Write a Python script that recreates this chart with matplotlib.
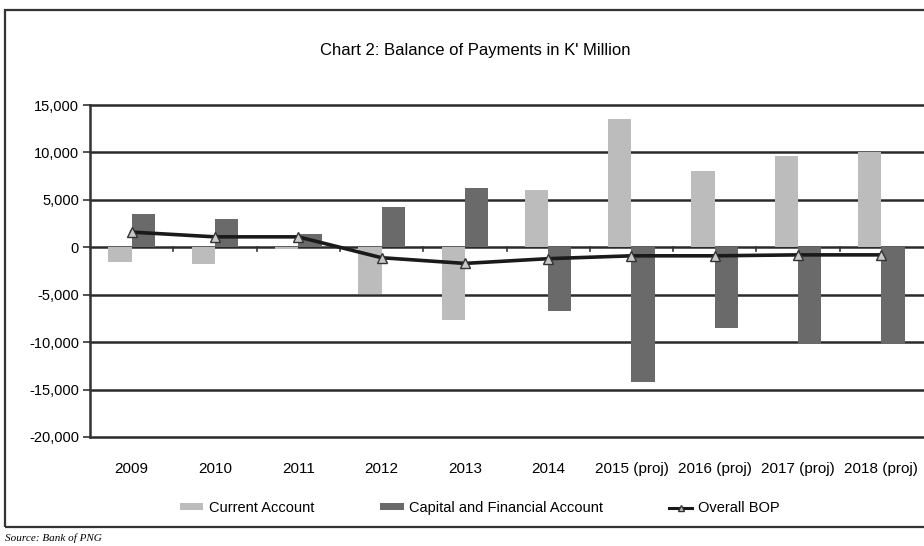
import matplotlib
matplotlib.use("Agg")
import matplotlib.pyplot as plt
from matplotlib.patches import Rectangle, Patch
from matplotlib.lines import Line2D
import numpy as np

categories = ["2009", "2010", "2011", "2012", "2013", "2014",
              "2015 (proj)", "2016 (proj)", "2017 (proj)", "2018 (proj)"]
current_account = [-1500, -1800, -200, -4900, -7700, 6000, 13500, 8000, 9600, 10000]
capital_financial = [3500, 3000, 1400, 4200, 6200, -6700, -14200, -8500, -10200, -10200]
overall_bop = [1600, 1100, 1100, -1100, -1700, -1200, -900, -900, -800, -800]
y_ticks = [-20000, -15000, -10000, -5000, 0, 5000, 10000, 15000]

plt.rcParams['font.family'] = ['Liberation Sans Narrow', 'Liberation Sans', 'DejaVu Sans']

W, H = 924, 546
fig = plt.figure(figsize=(W / 100, H / 100), dpi=100)
fig.patch.set_facecolor("white")

# chart border
fig.patches.append(Rectangle((5 / W, 1 - 527 / H), 1.0, (527 - 10) / H,
                             transform=fig.transFigure, fill=False,
                             edgecolor="#333333", linewidth=1.6))

left, right = 90 / W, 923 / W
bottom, top = 1 - 437 / H, 1 - 105 / H
ax = fig.add_axes([left, bottom, right - left, top - bottom])

x = np.arange(len(categories))
bw = 0.28
ax.bar(x - bw / 2, current_account, width=bw, color="#bcbcbc", zorder=3)
ax.bar(x + bw / 2, capital_financial, width=bw, color="#6a6a6a", zorder=3)
ax.plot(x, overall_bop, color="#1a1a1a", linewidth=2.6, zorder=4,
        marker="^", markersize=7, markerfacecolor="#c8c8c8",
        markeredgecolor="#333333", markeredgewidth=1)

ax.set_xlim(-0.5, len(categories) - 0.5)
ax.set_ylim(-20000, 15000)
ax.set_yticks(y_ticks)
ax.set_yticklabels([f"{v:,}" for v in y_ticks], fontsize=10.5)
for v in y_ticks:
    ax.axhline(v, color="#2a2a2a", linewidth=1.8, zorder=2, clip_on=False)

ax.set_xticks(x)
ax.set_xticklabels(categories, fontsize=11)
ax.tick_params(axis="x", length=0, pad=18)
ax.tick_params(axis="y", length=5, width=1.2, color="#333333", pad=3)
# category boundary ticks on zero line
for b in np.arange(0.5, len(categories) - 0.5, 1.0):
    ax.plot([b, b], [0, -400], color="#333333", linewidth=1.2, zorder=3)

for s in ["top", "right", "bottom"]:
    ax.spines[s].set_visible(False)
ax.spines["left"].set_color("#333333")
ax.spines["left"].set_linewidth(1.8)

fig.text(475 / W, 1 - 50 / H, "Chart 2: Balance of Payments in K' Million",
         ha="center", va="center", fontsize=12)

handles = [Patch(facecolor="#bcbcbc", edgecolor="none", label="Current Account"),
           Patch(facecolor="#6a6a6a", edgecolor="none", label="Capital and Financial Account"),
           Line2D([0], [0], color="#1a1a1a", linewidth=2.2, marker="^", markersize=5,
                  markerfacecolor="#c8c8c8", markeredgecolor="#333333",
                  label="Overall BOP")]
fig.legend(handles=handles, loc="center", bbox_to_anchor=(480 / W, 1 - 508 / H),
           ncol=3, frameon=False, fontsize=10.5, handlelength=1.6,
           handleheight=0.4, columnspacing=4.5, handletextpad=0.4)

fig.text(5 / W, 1 - 538 / H, "Source: Bank of PNG", family="Liberation Serif",
         style="italic", fontsize=8, ha="left", va="center")

fig.savefig("out.png", dpi=100)
